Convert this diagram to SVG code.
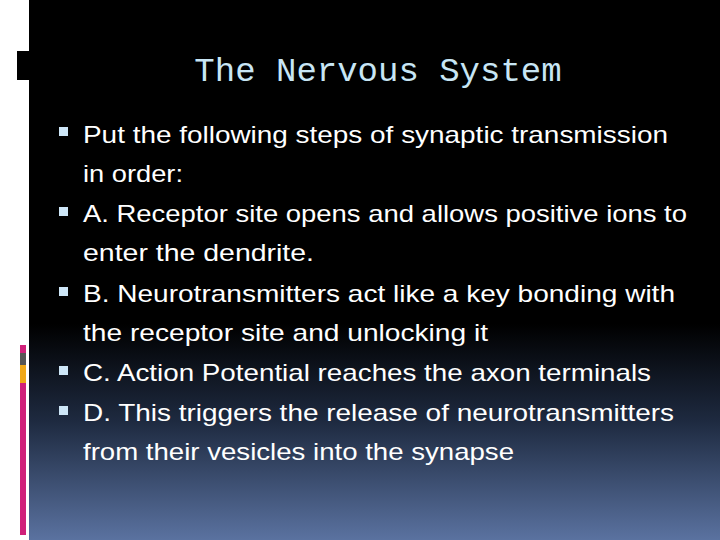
<svg xmlns="http://www.w3.org/2000/svg" width="720" height="540" viewBox="0 0 720 540">
<defs>
<linearGradient id="bg" x1="0" y1="0" x2="0" y2="1">
<stop offset="0" stop-color="#000"/><stop offset="0.6" stop-color="#000"/><stop offset="0.78" stop-color="#1e2a40"/><stop offset="1" stop-color="#5a72a0"/>
</linearGradient>
<style>
.b{font-family:"Liberation Sans",Arial,sans-serif;font-size:24px;fill:#fff}
.m{fill:#cde6f7}
</style>
</defs>
<rect width="720" height="540" fill="#fff"/>
<rect x="29" y="0" width="691" height="540" fill="url(#bg)"/>
<rect x="17" y="51" width="12" height="29" fill="#000"/>
<rect x="20" y="345" width="6" height="8" fill="#d0207a"/>
<rect x="20" y="353" width="6" height="12" fill="#555"/>
<rect x="20" y="365" width="6" height="18" fill="#f0a818"/>
<rect x="20" y="383" width="6" height="152" fill="#d0207a"/>
<g id="title"><text x="378" y="81" text-anchor="middle" font-family="Liberation Mono,monospace" font-size="34" fill="#c8e6f5">The Nervous System</text></g>
<g id="body">
<rect class="m" x="59" y="127" width="9" height="9"/>
<rect class="m" x="59" y="207" width="9" height="9"/>
<rect class="m" x="59" y="287" width="9" height="9"/>
<rect class="m" x="59" y="366" width="9" height="9"/>
<rect class="m" x="59" y="406" width="9" height="9"/>
<text class="b" x="83" y="143" textLength="585" lengthAdjust="spacingAndGlyphs">Put the following steps of synaptic transmission</text>
<text class="b" x="83" y="182" textLength="100" lengthAdjust="spacingAndGlyphs">in order:</text>
<text class="b" x="83" y="222" textLength="604" lengthAdjust="spacingAndGlyphs">A. Receptor site opens and allows positive ions to</text>
<text class="b" x="83" y="261" textLength="231" lengthAdjust="spacingAndGlyphs">enter the dendrite.</text>
<text class="b" x="83" y="302" textLength="592" lengthAdjust="spacingAndGlyphs">B. Neurotransmitters act like a key bonding with</text>
<text class="b" x="83" y="341" textLength="405" lengthAdjust="spacingAndGlyphs">the receptor site and unlocking it</text>
<text class="b" x="83" y="381" textLength="568" lengthAdjust="spacingAndGlyphs">C. Action Potential reaches the axon terminals</text>
<text class="b" x="83" y="421" textLength="591" lengthAdjust="spacingAndGlyphs">D. This triggers the release of neurotransmitters</text>
<text class="b" x="83" y="460" textLength="431" lengthAdjust="spacingAndGlyphs">from their vesicles into the synapse</text>
</g>
</svg>
